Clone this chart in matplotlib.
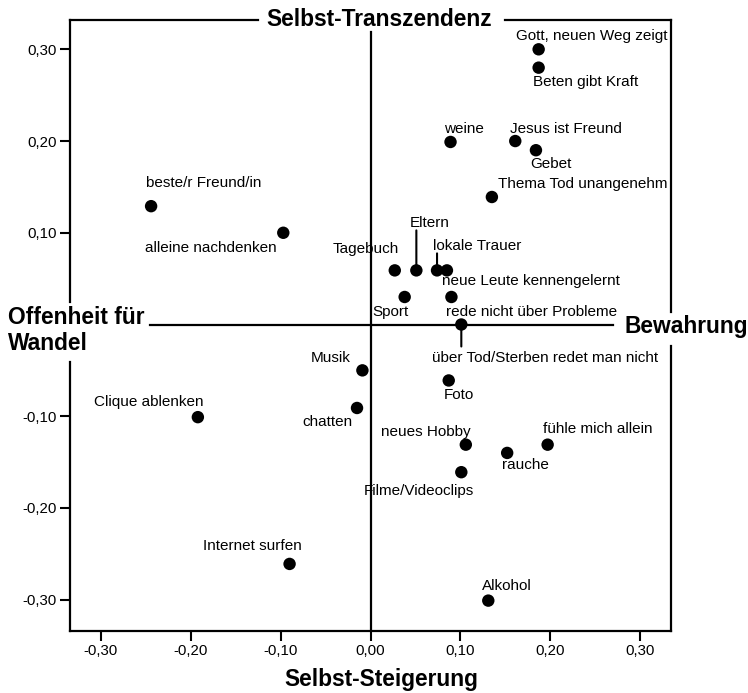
import matplotlib
matplotlib.use("Agg")
import matplotlib.pyplot as plt

plt.rcParams['font.family'] = ['Liberation Sans', 'DejaVu Sans']

labels = ["Gott, neuen Weg zeigt", "Beten gibt Kraft", "weine", "Jesus ist Freund", "Gebet",
          "Thema Tod unangenehm", "beste/r Freund/in", "alleine nachdenken", "Tagebuch", "Eltern",
          "lokale Trauer", "neue Leute kennengelernt", "rede nicht über Probleme", "Sport",
          "über Tod/Sterben redet man nicht", "Musik", "Foto", "Clique ablenken", "chatten",
          "neues Hobby", "fühle mich allein", "rauche", "Filme/Videoclips", "Alkohol", "Internet surfen"]
x_vals = [0.187, 0.187, 0.089, 0.161, 0.184, 0.135, -0.244, -0.097, 0.027, 0.051,
          0.074, 0.085, 0.090, 0.038, 0.101, -0.009, 0.087, -0.192, -0.015,
          0.106, 0.197, 0.152, 0.101, 0.131, -0.090]
y_vals = [0.300, 0.280, 0.199, 0.200, 0.190, 0.139, 0.129, 0.100, 0.059, 0.059,
          0.059, 0.059, 0.030, 0.030, 0.000, -0.050, -0.061, -0.101, -0.091,
          -0.131, -0.131, -0.140, -0.161, -0.301, -0.261]

x_tick_vals = [-0.30, -0.20, -0.10, 0.00, 0.10, 0.20, 0.30]
x_tick_labels = ["-0,30", "-0,20", "-0,10", "0,00", "0,10", "0,20", "0,30"]
y_tick_vals = [-0.30, -0.20, -0.10, 0.10, 0.20, 0.30]
y_tick_labels = ["-0,30", "-0,20", "-0,10", "0,10", "0,20", "0,30"]

# label offsets (pixels, label centre relative to point)
offsets = [(53, 13), (47, -14), (13, 13), (51, 12), (15, -14),
           (91, 13), (53, 23), (-72, -15), (-29, 21), (13, 47),
           (40, 24), (84, -11), (80, -15), (-14, -15),
           (84, -33), (-32, 12), (10, -15), (-49, 15), (-30, -14),
           (-40, 13), (50, 16), (18, -12), (-42, -19), (19, 15), (-37, 18)]
# leader lines (pixels) for specific labels
leaders = {"Eltern": 40, "lokale Trauer": 17, "über Tod/Sterben redet man nicht": -22}

W, H = 748, 693
fig = plt.figure(figsize=(W / 100, H / 100), dpi=100)
ax = fig.add_axes([70 / W, 1 - 630.7 / H, 601 / W, 611.2 / H])
ax.set_xlim(-0.3342, 0.3342)
ax.set_ylim(-0.3338, 0.3325)

for s in ax.spines.values():
    s.set_visible(False)

lw = 1.6
def seg(x0, y0, x1, y1):
    ax.plot([x0, x1], [y0, y1], transform=ax.transAxes, color='black', lw=lw,
            clip_on=False, solid_capstyle='projecting', zorder=3)

def axx(px):
    return (px - 70) / 601

def axy(py):
    return (630.7 - py) / 611.2

# frame with gaps for the pole labels
seg(0, 1, axx(258), 1)
seg(axx(505), 1, 1, 1)
seg(0, 0, 0, axy(362))
seg(0, axy(302), 0, 1)
seg(1, 0, 1, axy(346))
seg(1, axy(312), 1, 1)
seg(0, 0, 1, 0)

# inner axes lines
ax.axhline(0, xmin=axx(150), xmax=axx(613), color='black', lw=lw, zorder=1)
ax.axvline(0, ymin=0, ymax=axy(32), color='black', lw=lw, zorder=1)

ax.set_xticks(x_tick_vals)
ax.set_xticklabels(x_tick_labels)
ax.set_yticks(y_tick_vals)
ax.set_yticklabels(y_tick_labels)
ax.tick_params(direction='out', length=7.5, width=1.5, labelsize=10.8, pad=2)

ax.scatter(x_vals, y_vals, s=80, color='black', edgecolors='none', zorder=4)

for lab, x, y, (dx, dy) in zip(labels, x_vals, y_vals, offsets):
    ax.annotate(lab, xy=(x, y), xytext=(dx, dy), textcoords='offset pixels',
                ha='center', va='center', fontsize=11, color='black')
    if lab in leaders:
        ax.annotate('', xy=(x, y), xytext=(0, leaders[lab]), textcoords='offset pixels',
                    xycoords='data',
                    arrowprops=dict(arrowstyle='-', lw=1.5, color='black', shrinkA=0, shrinkB=0))

bold = dict(fontsize=16.4, fontweight='bold', color='black')
fig.text(379 / W, 1 - 19.3 / H, "Selbst-Transzendenz", ha='center', va='center', **bold)
fig.text(381.7 / W, 1 - 679.3 / H, "Selbst-Steigerung", ha='center', va='center', **bold)
fig.text(625 / W, 1 - 326.7 / H, "Bewahrung", ha='left', va='center', **bold)
fig.text(8 / W, 1 - 330.3 / H, "Offenheit für\nWandel", ha='left', va='center',
         multialignment='left', linespacing=1.2, **bold)

fig.savefig("out.png", dpi=100)
